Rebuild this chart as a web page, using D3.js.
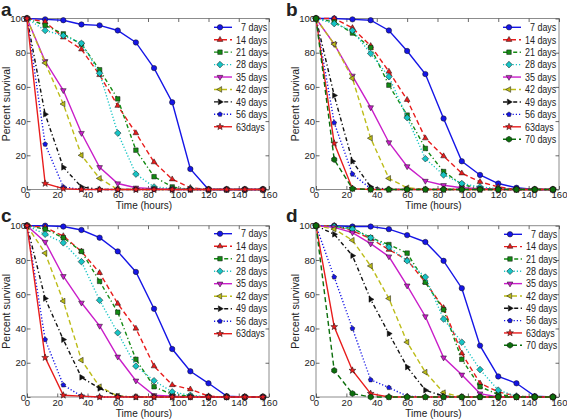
<!DOCTYPE html>
<html><head><meta charset="utf-8">
<script src="https://cdn.jsdelivr.net/npm/d3@7"></script>
<style>
body{margin:0;background:#fff}
svg{display:block}
text{font-family:"Liberation Sans",Arial,sans-serif;fill:#222}
</style>
</head><body>
<svg id="chart" width="567" height="420"></svg>
<script>
// ---- data ----
const hours = [0,12,24,36,48,60,72,84,96,108,120,132,144,156];
const xTicks = [0,20,40,60,80,100,120,140,160];
const yTicks = [0,20,40,60,80,100];
const labels9 = ["7 days","14 days","21 days","28 days","35 days","42 days","49 days","56 days","63days"];
const labels10 = ["7 days","14 days","21 days","28 days","35 days","42 days","49 days","56 days","63days","70 days"];

// panel a: rows = 7,14,21,28,35,42,49,56,63 days
const panelA = [
  [100,99.5,99,96.5,96,93,86,71,51,12,0,0,0,0],
  [100,98,89,82,67,49,33,16,6,1,0,0,0,0],
  [100,96,91,85,70,53,23,7.5,1.5,0,0,0,0,0],
  [100,93,90,85.5,68,33,9,1.5,0.5,0.5,0,0,0,0],
  [100,75,58,33,13,3.5,1,0.5,0,0,0,0,0,0],
  [100,74,50,20,6.5,0,0,0,0,0,0,0,0,0],
  [100,44,13,1.5,0,0,0,0,0,0,0,0,0,0],
  [100,26.5,1.5,0,0,0,0,0,0,0,0,0,0,0],
  [100,3.5,0.5,0,0,0,0,0,0,0,0,0,0,0]
];
// panel b: rows = 7..70 days
const panelB = [
  [100,100,99.5,99,93,81,67.5,41.5,16.5,8.5,3.5,1,0,0],
  [100,100,94.5,84,69,52.5,30,19.5,9.5,4.5,1.5,0,0,0],
  [100,98,91.5,83,61,43.5,24,10.5,3,0.5,0,0,0,0],
  [100,97,93,79.5,66,42,18,8.5,3.5,1.5,0.5,0,0,0],
  [100,85,66.5,48,27.5,13.5,5,2.5,1,0.5,0,0,0,0],
  [100,85,65,30,6.5,1,0,0,0,0,0,0,0,0],
  [100,55,16.5,1.5,0,0,0,0,0,0,0,0,0,0],
  [100,39,9,0.5,0,0,0,0,0,0,0,0,0,0],
  [100,27,0.5,0,0,0,0,0,0,0,0,0,0,0],
  [100,17.5,0.5,0,0,0,0,0,0,0,0,0,0,0]
];
// panel c: rows = 7..63 days
const panelC = [
  [100,100,99.5,97.5,93,85,73,51.5,28,15,8,0.5,0,0],
  [100,99,94,85,72.5,54.5,40,18,7,4.5,0.5,0,0,0],
  [100,98,93,85,67.5,49.5,22,6,1.5,0.5,0,0,0,0],
  [100,95,90,79,56.5,37.5,18,9.5,3,1,0,0,0,0],
  [100,90.5,70.5,55,41.5,23.5,9.5,1,0.5,0,0,0,0,0],
  [100,84,56,21.5,6,0.5,0,0,0,0,0,0,0,0],
  [100,57.5,33.5,11.5,5,0.5,0,0,0,0,0,0,0,0],
  [100,33.5,7,0.5,0,0,0,0,0,0,0,0,0,0],
  [100,23,1,0.5,0,0,0,0,0,0,0,0,0,0]
];
// panel d: rows = 7..70 days
const panelD = [
  [100,100,99.5,99.5,98,94.5,90.5,79.5,63.5,30,12,8,0.5,0],
  [100,100,97,92.5,86,80,67,52,25.5,8,3,0.5,0,0],
  [100,99.5,98.5,93,89,84,67,51,22,6,1.5,0,0,0],
  [100,99.5,98,93,87.5,79.5,70,45.5,32,16,4,0.5,0,0],
  [100,99,96,89.5,82,65,47,23,13,2,0,0,0,0],
  [100,98,91.5,76.5,57.5,32,14.5,2.5,0,0,0,0,0,0],
  [100,95,82.5,57,37,17.5,4,0.5,0,0,0,0,0,0],
  [100,70,40,10,5.5,0.5,0,0,0,0,0,0,0,0],
  [100,41,15.5,2,0,0,0,0,0,0,0,0,0,0],
  [100,15.5,2,0,0,0,0,0,0,0,0,0,0,0]
];

// ---- styles ----
const seriesColors = ["#1515e6","#e81c1c","#138a13","#17c4c4","#c91ec9","#bcbc18","#111111","#1515e6","#e81c1c","#0b6e0b"];
const seriesDash = [null,"5,3","4,2.5,1.2,2.5","1.2,2",null,"5,3","4,2.5,1.2,2.5","1.2,2",null,"5,3"];
const seriesMarker = ["o","^","s","D","v","<",">","p","*","h"];

const panels = [
  {letter:"a", data:panelA, labels:labels9,  x0:27,  x1:269, yb:189.5, yt:18.5,  lx:214, ly:27.3,  ldy:12.43, lox:0, loy:0},
  {letter:"b", data:panelB, labels:labels10, x0:316, x1:559, yb:189.5, yt:18.5,  lx:503, ly:27.3,  ldy:12.44, lox:285, loy:0},
  {letter:"c", data:panelC, labels:labels9,  x0:27,  x1:269, yb:397,   yt:225.7, lx:214, ly:233.7, ldy:12.5, lox:0, loy:206},
  {letter:"d", data:panelD, labels:labels10, x0:316, x1:559, yb:397,   yt:225.7, lx:504, ly:234.3, ldy:12.33, lox:285, loy:206}
];

function poly(n, r, rot){
  const pts=[];
  for(let k=0;k<n;k++){const a=(rot + k*360/n)*Math.PI/180; pts.push([r*Math.sin(a), -r*Math.cos(a)]);}
  return "M"+pts.map(p=>p[0].toFixed(2)+","+p[1].toFixed(2)).join("L")+"Z";
}
function star(r){
  const pts=[];
  for(let k=0;k<10;k++){const a=k*36*Math.PI/180; const rr = k%2? r*0.42 : r; pts.push([rr*Math.sin(a), -rr*Math.cos(a)]);}
  return "M"+pts.map(p=>p[0].toFixed(2)+","+p[1].toFixed(2)).join("L")+"Z";
}
function markerPath(m){
  switch(m){
    case "o": return d3.symbol(d3.symbolCircle, Math.PI*2.7*2.7)();
    case "^": return poly(3,3.3,0);
    case "v": return poly(3,3.3,180);
    case "<": return poly(3,3.3,-90);
    case ">": return poly(3,3.3,90);
    case "s": return poly(4,3.2,45);
    case "D": return poly(4,3.3,0);
    case "p": return poly(5,2.5,0);
    case "h": return poly(6,3.0,0);
    case "*": return star(3.6);
  }
}

const svg = d3.select("#chart");

panels.forEach(p=>{
  const g = svg.append("g");
  const x = d3.scaleLinear().domain([0,160]).range([p.x0,p.x1]);
  const y = d3.scaleLinear().domain([0,100]).range([p.yb,p.yt]);

  // frame
  g.append("rect").attr("x",p.x0).attr("y",p.yt).attr("width",p.x1-p.x0).attr("height",p.yb-p.yt)
    .attr("fill","none").attr("stroke","#8c8c8c").attr("stroke-width",1);

  // axes
  const ax = g.append("g").attr("transform",`translate(0,${p.yb})`)
    .call(d3.axisBottom(x).tickValues(xTicks).tickSizeInner(-3.5).tickSizeOuter(0).tickPadding(2));
  const ay = g.append("g").attr("transform",`translate(${p.x0},0)`)
    .call(d3.axisLeft(y).tickValues(yTicks).tickSizeInner(-3.5).tickSizeOuter(0).tickPadding(1));
  const axT = g.append("g").attr("transform",`translate(0,${p.yt})`)
    .call(d3.axisTop(x).tickValues(xTicks).tickSizeInner(-3.5).tickSizeOuter(0).tickFormat(""));
  const ayR = g.append("g").attr("transform",`translate(${p.x1},0)`)
    .call(d3.axisRight(y).tickValues(yTicks).tickSizeInner(-3.5).tickSizeOuter(0).tickFormat(""));
  [ax,ay,axT,ayR].forEach(a=>{
    a.select(".domain").remove();
    a.selectAll(".tick line").attr("stroke","#444").attr("stroke-width",0.8);
    a.selectAll(".tick text").attr("font-size","9.5px").attr("fill","#333")
      .attr("font-family","'Liberation Sans',Arial,sans-serif");
  });

  // axis labels
  g.append("text").attr("x",(p.x0+p.x1)/2-4).attr("y",p.yb+19.5)
    .attr("text-anchor","middle").attr("font-size","10px").text("Time (hours)");
  g.append("text").attr("transform",`translate(${p.x0-21},${(p.yt+p.yb)/2}) rotate(-90)`)
    .attr("text-anchor","middle").attr("dy","0.36em").attr("font-size","10.5px").text("Percent survival");

  // panel letter
  svg.append("text").attr("x",1+p.lox).attr("y",16+p.loy).attr("font-size","19px")
    .attr("font-weight","bold").attr("fill","#000").text(p.letter);

  // series
  const line = d3.line().x((d,i)=>x(hours[i])).y(d=>y(d));
  p.data.forEach((vals,si)=>{
    const sg = g.append("g");
    sg.append("path").attr("d",line(vals)).attr("fill","none")
      .attr("stroke",seriesColors[si]).attr("stroke-width",1.4)
      .attr("stroke-dasharray",seriesDash[si]);
    sg.selectAll("path.m").data(vals).join("path").attr("class","m")
      .attr("d",markerPath(seriesMarker[si]))
      .attr("transform",(d,i)=>`translate(${x(hours[i])},${y(d)})`)
      .attr("fill",seriesColors[si]).attr("stroke","#111").attr("stroke-width",0.5);
  });

  // legend
  p.labels.forEach((lab,si)=>{
    const ly = p.ly + si*p.ldy;
    const lg = g.append("g");
    lg.append("line").attr("x1",p.lx).attr("x2",p.lx+18).attr("y1",ly).attr("y2",ly)
      .attr("stroke",seriesColors[si]).attr("stroke-width",1.4).attr("stroke-dasharray",seriesDash[si]);
    lg.append("path").attr("d",markerPath(seriesMarker[si])).attr("transform",`translate(${p.lx+6},${ly})`)
      .attr("fill",seriesColors[si]).attr("stroke","#111").attr("stroke-width",0.5);
    const off = /^\d /.test(lab) ? 5 : 0;
    lg.append("g").attr("transform",`translate(${p.lx+22+off},${ly}) scale(0.85,1)`)
      .append("text").attr("dy","0.36em").attr("font-size","10.5px").text(lab);
  });
});
</script>
</body></html>
